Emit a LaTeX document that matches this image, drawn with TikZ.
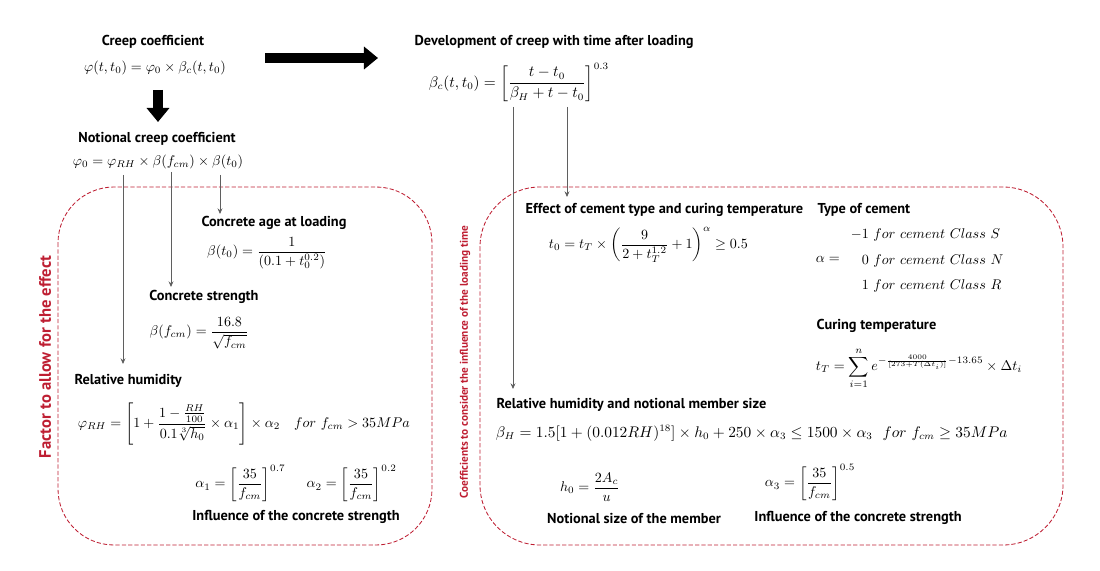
\documentclass[tikz,border=0pt]{standalone}
\usepackage{amsmath,amssymb}
\usepackage{fontspec}
\setsansfont{PT Sans}
\usetikzlibrary{arrows.meta}
\definecolor{boxred}{RGB}{190,30,50}
\definecolor{linegray}{RGB}{95,95,95}

\begin{document}
\begin{tikzpicture}[x=0.025cm,y=-0.025cm,
head/.style={font=\fontsize{10.2}{12}\sffamily\bfseries,inner sep=1pt},
eq/.style={font=\fontsize{10}{12}\selectfont,inner sep=0.5pt},
bigeq/.style={font=\fontsize{10.6}{12}\selectfont,inner sep=0.5pt},
side/.style={rotate=90,text=boxred,inner sep=1pt},
frame/.style={draw=boxred,line width=0.6pt,dash pattern=on 3pt off 1.5pt},
conn/.style={draw=linegray,line width=0.7pt,-{Stealth[length=4pt,width=3.5pt]}},
fat/.style={line width=0.25cm,-{Triangle[length=0.35cm,width=0.55cm]}}]

\useasboundingbox (0,0) rectangle (1100,571);

\draw[frame,rounded corners=1.4cm] (58,187) rectangle (432,545);
\draw[frame,rounded corners=1.5cm] (480,187) rectangle (1063,545);

\node[side,font=\fontsize{11.8}{13}\sffamily\bfseries] (leftlabel) at (45,357) {Factor to allow for the effect};
\node[side,font=\fontsize{8}{10}\sffamily\bfseries] (rightlabel) at (465,362) {Coefficients to consider the influence of the loading time};

\node[head] (creep) at (153,42) {Creep coefficient};
\node[eq] (creepeq) at (155,68) {$\varphi(t,t_0)=\varphi_0\times\beta_c(t,t_0)$};
\node[head] (notional) at (157,139) {Notional creep coefficient};
\node[eq] (notionaleq) at (158,162) {$\varphi_0=\varphi_{RH}\times\beta(f_{cm})\times\beta(t_0)$};

\node[head] (agehead) at (274,223) {Concrete age at loading};
\node[eq] (ageeq) at (267,253) {$\beta(t_0)=\dfrac{1}{(0.1+t_0^{0.2})}$};
\node[head] (strengthhead) at (204,297) {Concrete strength};
\node[eq] (strengtheq) at (199,333) {$\beta(f_{cm})=\dfrac{16.8}{\sqrt{f_{cm}}}$};
\node[head,anchor=west] (humhead) at (73,381) {Relative humidity};
\node[eq,anchor=west] (humeq) at (77,424) {$\varphi_{RH}=\left[1+\dfrac{1-\frac{RH}{100}}{0.1\sqrt[3]{h_0}}\times\alpha_1\right]\times\alpha_2\ \ \ for\ f_{cm}>35MPa$};
\node[eq] (alphaeq) at (296,483) {$\alpha_1=\left[\dfrac{35}{f_{cm}}\right]^{0.7}\quad\ \alpha_2=\left[\dfrac{35}{f_{cm}}\right]^{0.2}$};
\node[head] (influhead) at (296,517) {Influence of the concrete strength};

\node[head,anchor=west] (devhead) at (413,42) {Development of creep with time after loading};
\node[bigeq,anchor=west] (deveq) at (428,82) {$\beta_c(t,t_0)=\left[\dfrac{t-t_0}{\beta_H+t-t_0}\right]^{0.3}$};

\node[head,anchor=west] (cementhead) at (524,210) {Effect of cement type and curing temperature};
\node[eq,anchor=west] (cementeq) at (548,245) {$t_0=t_T\times\left(\dfrac{9}{2+t_T^{1.2}}+1\right)^{\alpha}\geq 0.5$};
\node[head,anchor=west] (typehead) at (816,210) {Type of cement};
\node[eq,anchor=west] (typeeq) at (815,259) {$\alpha=\renewcommand{\arraystretch}{1.5}\begin{array}{r@{\ }l}-1&for\ cement\ Class\ S\\0&for\ cement\ Class\ N\\1&for\ cement\ Class\ R\end{array}$};
\node[head,anchor=west] (curinghead) at (815,326) {Curing temperature};
\node[eq,anchor=west] (curingeq) at (815,368) {$t_T=\displaystyle\sum_{i=1}^{n}e^{-\frac{4000}{[273+T(\Delta t_i)]}-13.65}\times\Delta t_i$};

\node[head,anchor=west] (memberhead) at (495,405) {Relative humidity and notional member size};
\node[bigeq,anchor=west] (membereq) at (495,433) {$\beta_H=1.5[1+(0.012RH)^{18}]\times h_0+250\times\alpha_3\leq1500\times\alpha_3\ \ for\ f_{cm}\geq35MPa$};
\node[eq] (sizeeq) at (590,487) {$h_0=\dfrac{2A_c}{u}$};
\node[eq] (alpha3eq) at (810,482) {$\alpha_3=\left[\dfrac{35}{f_{cm}}\right]^{0.5}$};
\node[head] (sizehead) at (634,518) {Notional size of the member};
\node[head] (influ2head) at (858,518) {Influence of the concrete strength};

\coordinate (fatA) at (265,58);
\coordinate (fatB) at (378,58);
\coordinate (fatC) at (158,90);
\coordinate (fatD) at (158,122);
\draw[fat] (fatA) -- (fatB);
\draw[fat] (fatC) -- (fatD);

\coordinate (pRH) at (123,175);
\coordinate (pfcm) at (171,172);
\coordinate (pt0) at (220,175);
\coordinate (pH) at (513,107);
\coordinate (pT) at (567,107);
\draw[conn] (pRH) -- (pRH |- 0,364);
\draw[conn] (pfcm) -- (pfcm |- 0,287);
\draw[conn] (pt0) -- (pt0 |- 0,214);
\draw[conn] (pH) -- (pH |- 0,389);
\draw[conn] (pT) -- (pT |- 0,197);
\end{tikzpicture}
\end{document}
